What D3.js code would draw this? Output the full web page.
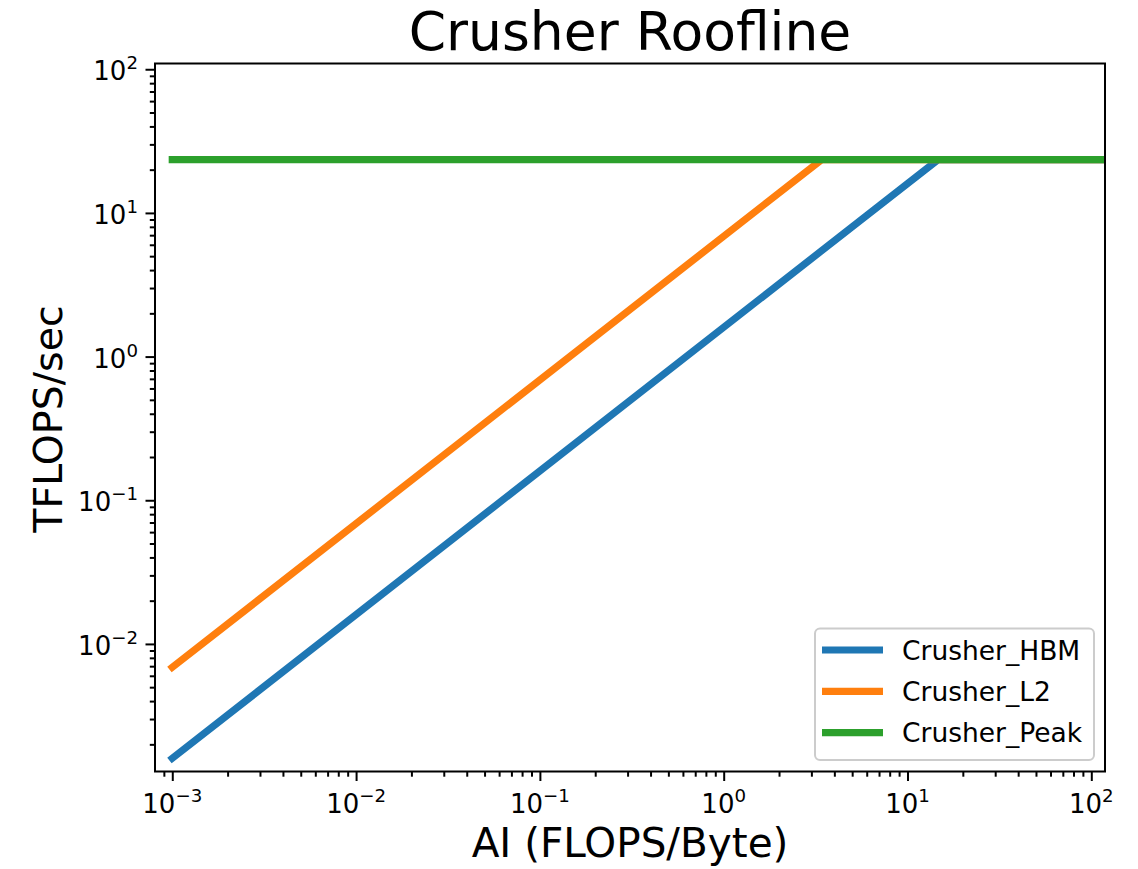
<!DOCTYPE html>
<html>
<head>
<meta charset="utf-8">
<script src="https://cdn.jsdelivr.net/npm/d3@7"></script>
<style>
  html, body { margin: 0; padding: 0; background: #fff; }
  svg { display: block; font-family: "DejaVu Sans", sans-serif; }
</style>
</head>
<body>
<svg id="chart" width="1138" height="869"></svg>
<script>
// ---- data ----
const seriesNames = ["Crusher_HBM", "Crusher_L2", "Crusher_Peak"];
const seriesColors = ["#1f77b4", "#ff7f0e", "#2ca02c"];
const aiHBM = [0.001, 14.69, 1000];
const perfHBM = [0.0016, 23.5, 23.5];
const aiL2 = [0.001, 3.415, 1000];
const perfL2 = [0.00688, 23.5, 23.5];
const aiPeak = [0.001, 1000];
const perfPeak = [23.5, 23.5];
const xTickExps = [-3, -2, -1, 0, 1, 2];
const yTickExps = [-2, -1, 0, 1, 2];
const titleText = "Crusher Roofline";
const xLabelText = "AI (FLOPS/Byte)";
const yLabelText = "TFLOPS/sec";

// ---- layout ----
const L = 155, R = 1105, T = 63.5, B = 771.5;
const svg = d3.select("#chart");

const x = d3.scaleLog().domain([Math.pow(10, -3.094), Math.pow(10, 2.0745)]).range([L, R]);
const y = d3.scaleLog().domain([Math.pow(10, -2.888), Math.pow(10, 2.040)]).range([B, T]);

svg.append("defs").append("clipPath").attr("id", "clip")
  .append("rect").attr("x", L).attr("y", T).attr("width", R - L).attr("height", B - T);

// minor tick values
function minorTicks(scale) {
  const [d0, d1] = scale.domain();
  const out = [];
  for (let e = Math.floor(Math.log10(d0)) - 1; e <= Math.ceil(Math.log10(d1)); e++) {
    for (let m = 2; m <= 9; m++) {
      const v = m * Math.pow(10, e);
      if (v >= d0 && v <= d1) out.push(v);
    }
  }
  return out;
}

const series = [
  { name: seriesNames[0], color: seriesColors[0], xs: aiHBM, ys: perfHBM },
  { name: seriesNames[1], color: seriesColors[1], xs: aiL2, ys: perfL2 },
  { name: seriesNames[2], color: seriesColors[2], xs: aiPeak, ys: perfPeak }
];

const line = d3.line().x(d => x(d[0])).y(d => y(d[1]));
const plot = svg.append("g").attr("clip-path", "url(#clip)");
series.forEach(s => {
  plot.append("path")
    .datum(s.xs.map((v, i) => [v, s.ys[i]]))
    .attr("d", line)
    .attr("fill", "none")
    .attr("stroke", s.color)
    .attr("stroke-width", 7.2)
    .attr("stroke-linecap", "square")
    .attr("stroke-linejoin", "round");
});

// axes
const xMajor = xTickExps.map(e => Math.pow(10, e));
const yMajor = yTickExps.map(e => Math.pow(10, e));

function styleAxis(g) {
  g.select(".domain").remove();
  g.selectAll(".tick line").attr("stroke", "#000").attr("stroke-width", 2);
  g.selectAll(".tick text").remove();
}

svg.append("g").attr("transform", `translate(0,${B})`)
  .call(d3.axisBottom(x).tickValues(minorTicks(x)).tickSize(5.2)).call(styleAxis);
svg.append("g").attr("transform", `translate(0,${B})`)
  .call(d3.axisBottom(x).tickValues(xMajor).tickSize(9.5)).call(styleAxis);
svg.append("g").attr("transform", `translate(${L},0)`)
  .call(d3.axisLeft(y).tickValues(minorTicks(y)).tickSize(5.2)).call(styleAxis);
svg.append("g").attr("transform", `translate(${L},0)`)
  .call(d3.axisLeft(y).tickValues(yMajor).tickSize(9.5)).call(styleAxis);

// tick labels with superscripts
const tickFont = 26;
function addPow(sel, e) {
  sel.append("tspan").text("10");
  sel.append("tspan").attr("font-size", tickFont * 0.7).attr("dy", -tickFont * 0.42)
    .text(e < 0 ? "\u2212" + Math.abs(e) : String(e));
}
xTickExps.forEach(e => {
  const t = svg.append("text")
    .attr("x", x(Math.pow(10, e)))
    .attr("y", B + 41)
    .attr("text-anchor", "middle")
    .attr("font-size", tickFont)
    .attr("fill", "#000");
  addPow(t, e);
});
yTickExps.forEach(e => {
  const t = svg.append("text")
    .attr("x", L - 17)
    .attr("y", y(Math.pow(10, e)) + 11)
    .attr("text-anchor", "end")
    .attr("font-size", tickFont)
    .attr("fill", "#000");
  addPow(t, e);
});

// spines
svg.append("rect").attr("x", L).attr("y", T).attr("width", R - L).attr("height", B - T)
  .attr("fill", "none").attr("stroke", "#000").attr("stroke-width", 2);

// title and labels
svg.append("text").attr("x", (L + R) / 2).attr("y", 50).attr("text-anchor", "middle")
  .attr("font-size", 53.5).attr("fill", "#000").text(titleText);
svg.append("text").attr("x", (L + R) / 2).attr("y", 857).attr("text-anchor", "middle")
  .attr("font-size", 40.5).attr("fill", "#000").text(xLabelText);
svg.append("text").attr("transform", `translate(62,419) rotate(-90)`).attr("text-anchor", "middle")
  .attr("font-size", 39.5).attr("fill", "#000").text(yLabelText);

// legend
const lg = svg.append("g");
lg.append("rect").attr("x", 815).attr("y", 628.5).attr("width", 279).attr("height", 131.5)
  .attr("rx", 5).attr("ry", 5)
  .attr("fill", "#fff").attr("fill-opacity", 0.8)
  .attr("stroke", "#cccccc").attr("stroke-width", 2);
series.forEach((s, i) => {
  const cy = 650 + i * 41.3;
  lg.append("line").attr("x1", 822).attr("x2", 883).attr("y1", cy).attr("y2", cy)
    .attr("stroke", s.color).attr("stroke-width", 7.2).attr("stroke-linecap", "butt");
  lg.append("text").attr("x", 902).attr("y", cy + 9.5).attr("font-size", 26.5)
    .attr("fill", "#000").text(s.name);
});
</script>
</body>
</html>
